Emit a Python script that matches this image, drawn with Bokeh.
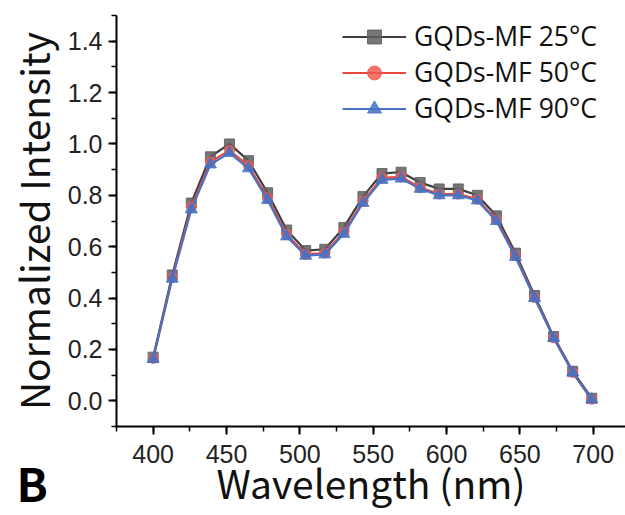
from bokeh.plotting import figure
from bokeh.models import Range1d, Legend, LegendItem, Title, FixedTicker
from bokeh.embed import file_html
from bokeh.resources import INLINE

wavelength = [400, 413, 426, 439, 452, 465, 478, 491, 504, 517, 530, 543,
              556, 569, 582, 595, 608, 621, 634, 647, 660, 673, 686, 699]
s25 = [0.17, 0.49, 0.77, 0.95, 1.00, 0.935, 0.81, 0.665, 0.585, 0.59, 0.675, 0.795,
       0.885, 0.89, 0.85, 0.825, 0.825, 0.80, 0.72, 0.575, 0.41, 0.25, 0.115, 0.01]
s50 = [0.165, 0.48, 0.755, 0.93, 0.975, 0.915, 0.79, 0.648, 0.57, 0.575, 0.657, 0.777,
       0.868, 0.872, 0.83, 0.805, 0.805, 0.785, 0.705, 0.565, 0.402, 0.245, 0.11, 0.006]
s90 = [0.163, 0.475, 0.745, 0.92, 0.965, 0.905, 0.782, 0.64, 0.565, 0.57, 0.65, 0.77,
       0.86, 0.865, 0.825, 0.80, 0.80, 0.78, 0.70, 0.56, 0.40, 0.245, 0.11, 0.005]
labels = ["GQDs-MF 25°C", "GQDs-MF 50°C", "GQDs-MF 90°C"]
x_ticks = [400, 450, 500, 550, 600, 650, 700]
y_ticks = [0.0, 0.2, 0.4, 0.6, 0.8, 1.0, 1.2, 1.4]

TICK_FONT = "Liberation Sans"
TEXT_FONT = "Noto Sans CJK SC"
LEGEND_FONT = "Open Sans"

p = figure(width=625, height=515, output_backend="svg", toolbar_location=None,
           x_range=Range1d(375, 722), y_range=Range1d(-0.1, 1.5),
           min_border_left=116, min_border_right=0, min_border_top=15,
           min_border_bottom=89)
p.outline_line_color = None
p.grid.visible = False
p.background_fill_color = "white"
p.border_fill_color = "white"

for ax in (p.xaxis[0], p.yaxis[0]):
    ax.axis_line_color = "black"
    ax.axis_line_width = 2
    ax.major_tick_line_width = 2
    ax.minor_tick_line_width = 1.5
    ax.major_tick_out = 8
    ax.major_tick_in = 0
    ax.minor_tick_out = 5
    ax.minor_tick_in = 0
    ax.major_label_text_font = TICK_FONT
    ax.major_label_text_font_size = "25px"
    ax.major_label_text_color = "#222222"
    ax.axis_label_text_font = TEXT_FONT
    ax.axis_label_text_font_style = "normal"
    ax.axis_label_text_font_size = "39px"
    ax.axis_label_text_color = "#111111"

p.xaxis.ticker = FixedTicker(ticks=x_ticks, minor_ticks=[375 + 25 * i for i in range(15)])
p.yaxis.ticker = FixedTicker(ticks=y_ticks, minor_ticks=[-0.1 + 0.1 * i for i in range(17)])
p.xaxis.major_label_overrides = {t: str(t) for t in x_ticks}
p.yaxis.major_label_overrides = {t: "%.1f" % t for t in y_ticks}
p.xaxis.major_label_standoff = 10
p.yaxis.major_label_standoff = 6
p.xaxis.axis_label = "Wavelength (nm)"
p.yaxis.axis_label = "Normalized Intensity"
p.xaxis.axis_label_standoff = -12
p.yaxis.axis_label_standoff = 4

items = []
series = [
    (s25, "#3f3f3f", "#5e5e5e", "square", 10),
    (s50, "#e8473e", "#ee5a50", "circle", 10),
    (s90, "#4a72c4", "#4472c4", "triangle", 12),
]
for (vals, lc, mc, mk, sz), lab in zip(series, labels):
    r1 = p.line(wavelength, vals, line_color=lc, line_width=2.2)
    r2 = p.scatter(wavelength, vals, marker=mk, size=sz, fill_color=mc,
                   line_color=mc, fill_alpha=0.85, line_alpha=0.85)
    items.append(LegendItem(label=lab, renderers=[r1, r2]))

legend = Legend(items=items, location=(226, 300), border_line_color=None,
                background_fill_alpha=0, label_text_font=LEGEND_FONT,
                label_text_font_size="26.5px", label_text_color="#111111",
                glyph_width=64, glyph_height=35, label_height=35,
                label_standoff=8, spacing=0, padding=0, margin=0)
p.add_layout(legend, "center")

panel_tag = Title(text="B\n", align="left", offset=-100, standoff=-131,
                  vertical_align="bottom",
                  text_font=TEXT_FONT, text_font_style="bold",
                  text_font_size="46px", text_color="black")
p.add_layout(panel_tag, "below")

open("out.html", "w").write(file_html(p, INLINE))
